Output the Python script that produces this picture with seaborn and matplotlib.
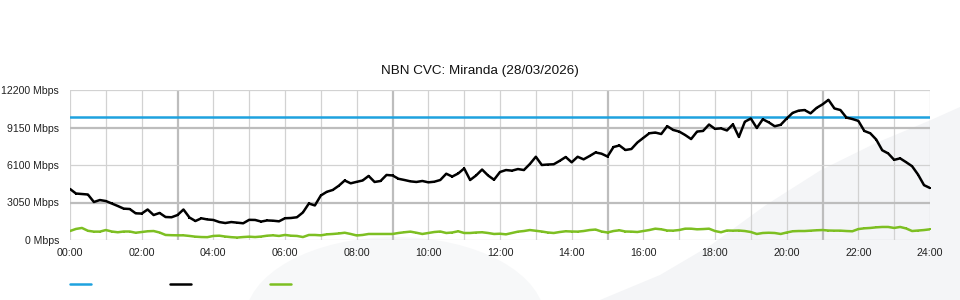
import matplotlib
matplotlib.use("Agg")
import matplotlib.pyplot as plt
import seaborn as sns
import pandas as pd
from matplotlib.patches import Polygon, Ellipse

# ---------------- data (Mbps, one sample every 10 minutes, 00:00 .. 24:00) ----------------
minutes = list(range(0, 1441, 10))

traffic_in = [
    4150, 3780, 3740, 3700, 3090, 3250, 3170, 2970, 2765, 2550,
    2520, 2170, 2150, 2480, 2030, 2200, 1870, 1850, 2030, 2480,
    1830, 1545, 1765, 1670, 1630, 1460, 1380, 1460, 1410, 1360,
    1640, 1630, 1500, 1590, 1570, 1520, 1770, 1790, 1850, 2240,
    2970, 2810, 3620, 3920, 4070, 4410, 4840, 4610, 4730, 4840,
    5210, 4720, 4800, 5290, 5250, 4980, 4880, 4770, 4720, 4800,
    4690, 4740, 4880, 5390, 5160, 5410, 5820, 4880, 5250, 5730,
    5250, 4900, 5530, 5690, 5640, 5770, 5690, 6180, 6770, 6100,
    6140, 6160, 6440, 6750, 6320, 6770, 6560, 6830, 7120, 7020,
    6790, 7560, 7690, 7320, 7400, 7930, 8300, 8680, 8740, 8620,
    9260, 8950, 8820, 8540, 8210, 8820, 8870, 9390, 9040, 9080,
    8910, 9410, 8380, 9620, 9880, 9110, 9820, 9570, 9250, 9370,
    9880, 10340, 10520, 10570, 10300, 10740, 11030, 11400, 10700, 10570,
    9960, 9840, 9690, 8870, 8680, 8170, 7300, 7040, 6520, 6640,
    6330, 6000, 5320, 4460, 4230,
]

traffic_out = [
    730, 900, 980, 750, 680, 680, 810, 690, 630, 690,
    690, 590, 650, 710, 730, 610, 410, 390, 380, 380,
    330, 270, 240, 230, 330, 350, 280, 230, 200, 240,
    270, 240, 280, 350, 380, 330, 410, 350, 330, 240,
    410, 410, 380, 460, 490, 530, 590, 490, 370, 410,
    490, 490, 490, 490, 490, 570, 630, 680, 590, 490,
    570, 650, 690, 570, 610, 710, 570, 570, 610, 630,
    570, 490, 510, 460, 570, 680, 730, 810, 750, 690,
    610, 570, 650, 710, 690, 680, 730, 810, 850, 690,
    610, 730, 790, 690, 680, 650, 730, 810, 920, 870,
    770, 760, 810, 920, 920, 870, 890, 920, 730, 630,
    770, 760, 770, 730, 650, 490, 570, 590, 570, 490,
    610, 710, 730, 730, 760, 790, 810, 770, 760, 760,
    730, 710, 890, 950, 980, 1030, 1060, 1060, 980, 1060,
    940, 730, 770, 810, 870,
]

capacity = 10000

y_ticks = [0, 3050, 6100, 9150, 12200]
y_labels = ["0 Mbps", "3050 Mbps", "6100 Mbps", "9150 Mbps", "12200 Mbps"]
x_ticks = list(range(0, 25, 2))
x_labels = ["%02d:00" % h for h in x_ticks]
grid_hours = list(range(0, 25))
strong_hours = [3, 9, 15, 21]
strong_values = [3050, 9150]

title = "NBN CVC: Miranda (28/03/2026)"

# ---------------- figure ----------------
sns.set_theme(style="white")
plt.rcParams["font.family"] = ["Liberation Sans", "DejaVu Sans"]

W, H = 960, 300
fig = plt.figure(figsize=(W / 100, H / 100), dpi=100)
fig.patch.set_facecolor("white")


def fx(px):
    return px / W


def fy(py):
    return 1 - py / H


# decorative background swooshes (behind everything)
hump = Ellipse((fx(395), fy(320)), width=fx(300), height=(83 / H) * 2,
               transform=fig.transFigure, facecolor="#f7f8f9", edgecolor="none", zorder=-5)
fig.patches.append(hump)
wedge_pts = [(600, 300), (660, 275), (711, 245), (766, 205), (821, 170),
             (876, 143), (931, 120), (960, 107), (960, 300)]
wedge = Polygon([(fx(a), fy(b)) for a, b in wedge_pts], closed=True,
                transform=fig.transFigure, facecolor="#f4f5f7", edgecolor="none", zorder=-5)
fig.patches.append(wedge)

ax = fig.add_axes([fx(70), fy(240), fx(860), 150 / H])
ax.set_zorder(1)
ax.patch.set_alpha(0)

# grid
for h in grid_hours:
    if h in strong_hours:
        ax.axvline(h * 60, color="#bdbdbd", lw=1.6, zorder=1)
    else:
        ax.axvline(h * 60, color="#d2d2d2", lw=0.9, zorder=1)
for v in y_ticks:
    if v in strong_values:
        ax.axhline(v, color="#bdbdbd", lw=1.6, zorder=1)
    else:
        ax.axhline(v, color="#d2d2d2", lw=0.9, zorder=1)

df = pd.DataFrame({
    "minute": minutes,
    "capacity": [capacity] * len(minutes),
    "in": traffic_in,
    "out": traffic_out,
})

sns.lineplot(data=df, x="minute", y="capacity", ax=ax, color="#1ea2df", lw=1.8, zorder=3)
sns.lineplot(data=df, x="minute", y="in", ax=ax, color="black", lw=1.8, zorder=4,
             marker="s", markersize=1.8, markeredgewidth=0)
sns.lineplot(data=df, x="minute", y="out", ax=ax, color="#7dbf22", lw=1.8, zorder=4,
             marker="s", markersize=1.8, markeredgewidth=0)

ax.set_xlim(0, 1440)
ax.set_ylim(0, 12200)
ax.set_xticks([h * 60 for h in x_ticks])
ax.set_xticklabels(x_labels)
ax.set_yticks(y_ticks)
ax.set_yticklabels(y_labels)
ax.tick_params(axis="x", length=0, pad=6, labelsize=7.7, labelcolor="#222222")
ax.tick_params(axis="y", length=0, pad=8, labelsize=7.6, labelcolor="#222222")
ax.set_xlabel("")
ax.set_ylabel("")
for s in ax.spines.values():
    s.set_visible(False)

fig.text(0.5, fy(71), title, ha="center", va="center", fontsize=9.7, color="#111111")

# legend (colour keys only)
handles = [
    plt.Line2D([], [], color="#1ea2df", lw=1.8),
    plt.Line2D([], [], color="black", lw=1.8),
    plt.Line2D([], [], color="#7dbf22", lw=1.8),
]
fig.legend(handles, ["", "", ""], ncol=3, loc="center left",
           bbox_to_anchor=(fx(70), fy(285)), frameon=False, fontsize=8,
           handlelength=1.9, handletextpad=0, columnspacing=7.1,
           borderpad=0, borderaxespad=0)

fig.savefig("out.png", dpi=100)
